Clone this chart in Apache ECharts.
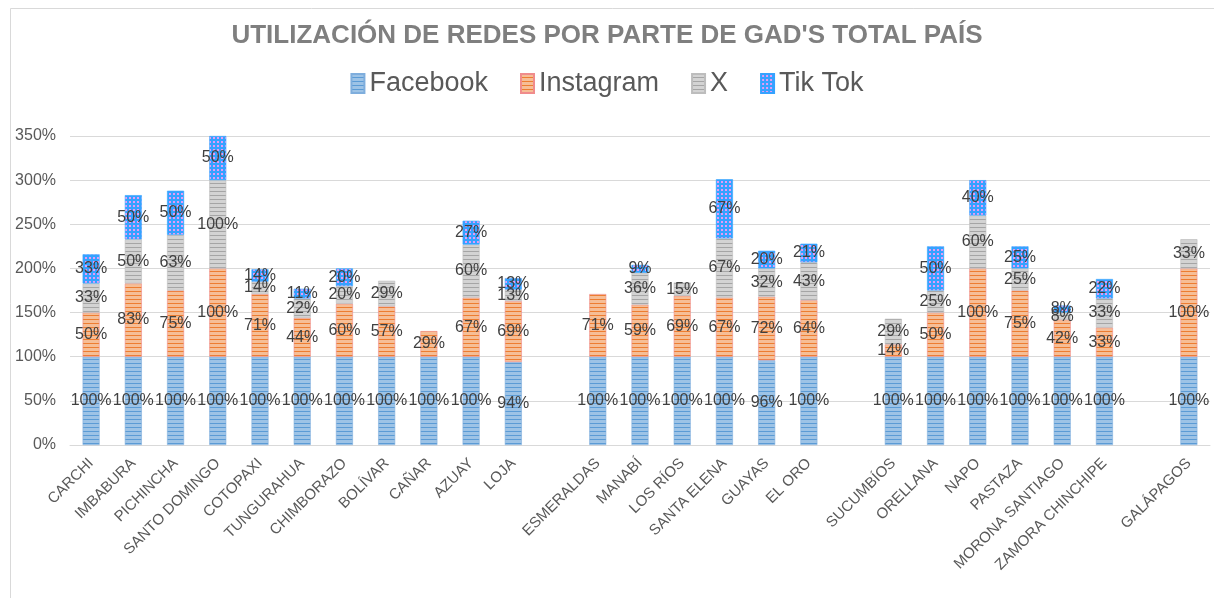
<!DOCTYPE html>
<html>
<head>
<meta charset="utf-8">
<script src="https://cdn.jsdelivr.net/npm/echarts@6/dist/echarts.min.js"></script>
<style>
html,body{margin:0;padding:0;background:#fff;}
#chart{width:1214px;height:598px;}
</style>
</head>
<body>
<div id="chart"></div>
<script>
// Categories ('' = spacer slot between regions)
var categories = ['CARCHI','IMBABURA','PICHINCHA','SANTO DOMINGO','COTOPAXI','TUNGURAHUA','CHIMBORAZO','BOLÍVAR','CAÑAR','AZUAY','LOJA','',
  'ESMERALDAS','MANABÍ','LOS RÍOS','SANTA ELENA','GUAYAS','EL ORO','',
  'SUCUMBÍOS','ORELLANA','NAPO','PASTAZA','MORONA SANTIAGO','ZAMORA CHINCHIPE','',
  'GALÁPAGOS'];
var facebook  = [100,100,100,100,100,100,100,100,100,100,94,null, 100,100,100,100,96,100,null, 100,100,100,100,100,100,null, 100];
var instagram = [50,83,75,100,71,44,60,57,29,67,69,null, 71,59,69,67,72,64,null, 14,50,100,75,42,33,null, 100];
var xRed      = [33,50,63,100,14,22,20,29,null,60,13,null, null,36,15,67,32,43,null, 29,25,60,25,8,33,null, 33];
var tiktok    = [33,50,50,50,14,11,20,null,null,27,13,null, null,9,null,67,20,21,null, null,50,40,25,8,22,null, null];
var seriesNames = ['Facebook','Instagram','X','Tik Tok'];
var yTicks = [0,50,100,150,200,250,300,350];

function linePattern(bg, line, period) {
  var c = document.createElement('canvas');
  c.width = 8; c.height = period;
  var g = c.getContext('2d');
  g.fillStyle = bg; g.fillRect(0,0,8,period);
  g.fillStyle = line; g.fillRect(0,period-1,8,1);
  return {image: c, repeat: 'repeat'};
}
function dotPattern(bg, dot) {
  var c = document.createElement('canvas');
  c.width = 4; c.height = 4;
  var g = c.getContext('2d');
  g.fillStyle = bg; g.fillRect(0,0,4,4);
  g.fillStyle = dot; g.fillRect(1,1,2,2);
  return {image: c, repeat: 'repeat'};
}

var fills = [
  linePattern('#9DC3E6', '#5B9BD5', 4),
  linePattern('#F6BE96', '#ED7D31', 4),
  linePattern('#D3D3D3', '#A5A5A5', 4),
  dotPattern('#35A2FF', '#E59CF5')
];
var borders = ['#7FAEDD', '#F08C8C', '#BDBDBD', '#35A2FF'];
var dataSets = [facebook, instagram, xRed, tiktok];

var chart = echarts.init(document.getElementById('chart'), null, {renderer:'canvas'});
var series = seriesNames.map(function(n, i){
  return {
    name: n,
    type: 'bar',
    stack: 'total',
    barWidth: 17,
    data: dataSets[i],
    itemStyle: {color: fills[i], borderColor: borders[i], borderWidth: 0.6},
    label: {
      show: true,
      position: 'inside',
      color: '#404040',
      fontFamily: 'Liberation Sans',
      fontSize: 16,
      formatter: function(p){ return (p.value === null || p.value === undefined) ? '' : p.value + '%'; }
    }
  };
});

chart.setOption({
  animation: false,
  backgroundColor: '#fff',
  graphic: [{
    type: 'rect', left: 8, top: 6, silent: true,
    shape: {width: 1220, height: 600},
    style: {fill: 'none', stroke: '#D9D9D9', lineWidth: 1}
  }],
  title: {
    text: "UTILIZACIÓN DE REDES POR PARTE DE GAD'S TOTAL PAÍS",
    left: 'center', top: 18,
    textStyle: {fontFamily: 'Liberation Sans', fontWeight: 'bold', fontSize: 26, color: '#7F7F7F'}
  },
  legend: {
    top: 65, left: 'center',
    itemWidth: 13, itemHeight: 19, itemGap: 32,
    icon: 'rect',
    textStyle: {fontFamily: 'Liberation Sans', fontSize: 27, color: '#595959'},
    data: seriesNames
  },
  grid: {left: 70, right: 4, top: 136, bottom: 153, containLabel: false},
  xAxis: {
    type: 'category',
    data: categories,
    axisLine: {lineStyle: {color: '#D9D9D9'}},
    axisTick: {show: false},
    axisLabel: {interval: 0, rotate: 45, color: '#595959', fontFamily: 'Liberation Sans', fontSize: 15, margin: 16}
  },
  yAxis: {
    type: 'value', min: 0, max: 350, interval: 50,
    axisLine: {show: false}, axisTick: {show: false},
    splitLine: {lineStyle: {color: '#D9D9D9'}},
    axisLabel: {formatter: '{value}%', color: '#595959', fontFamily: 'Liberation Sans', fontSize: 16, margin: 14}
  },
  series: series
});
</script>
</body>
</html>
